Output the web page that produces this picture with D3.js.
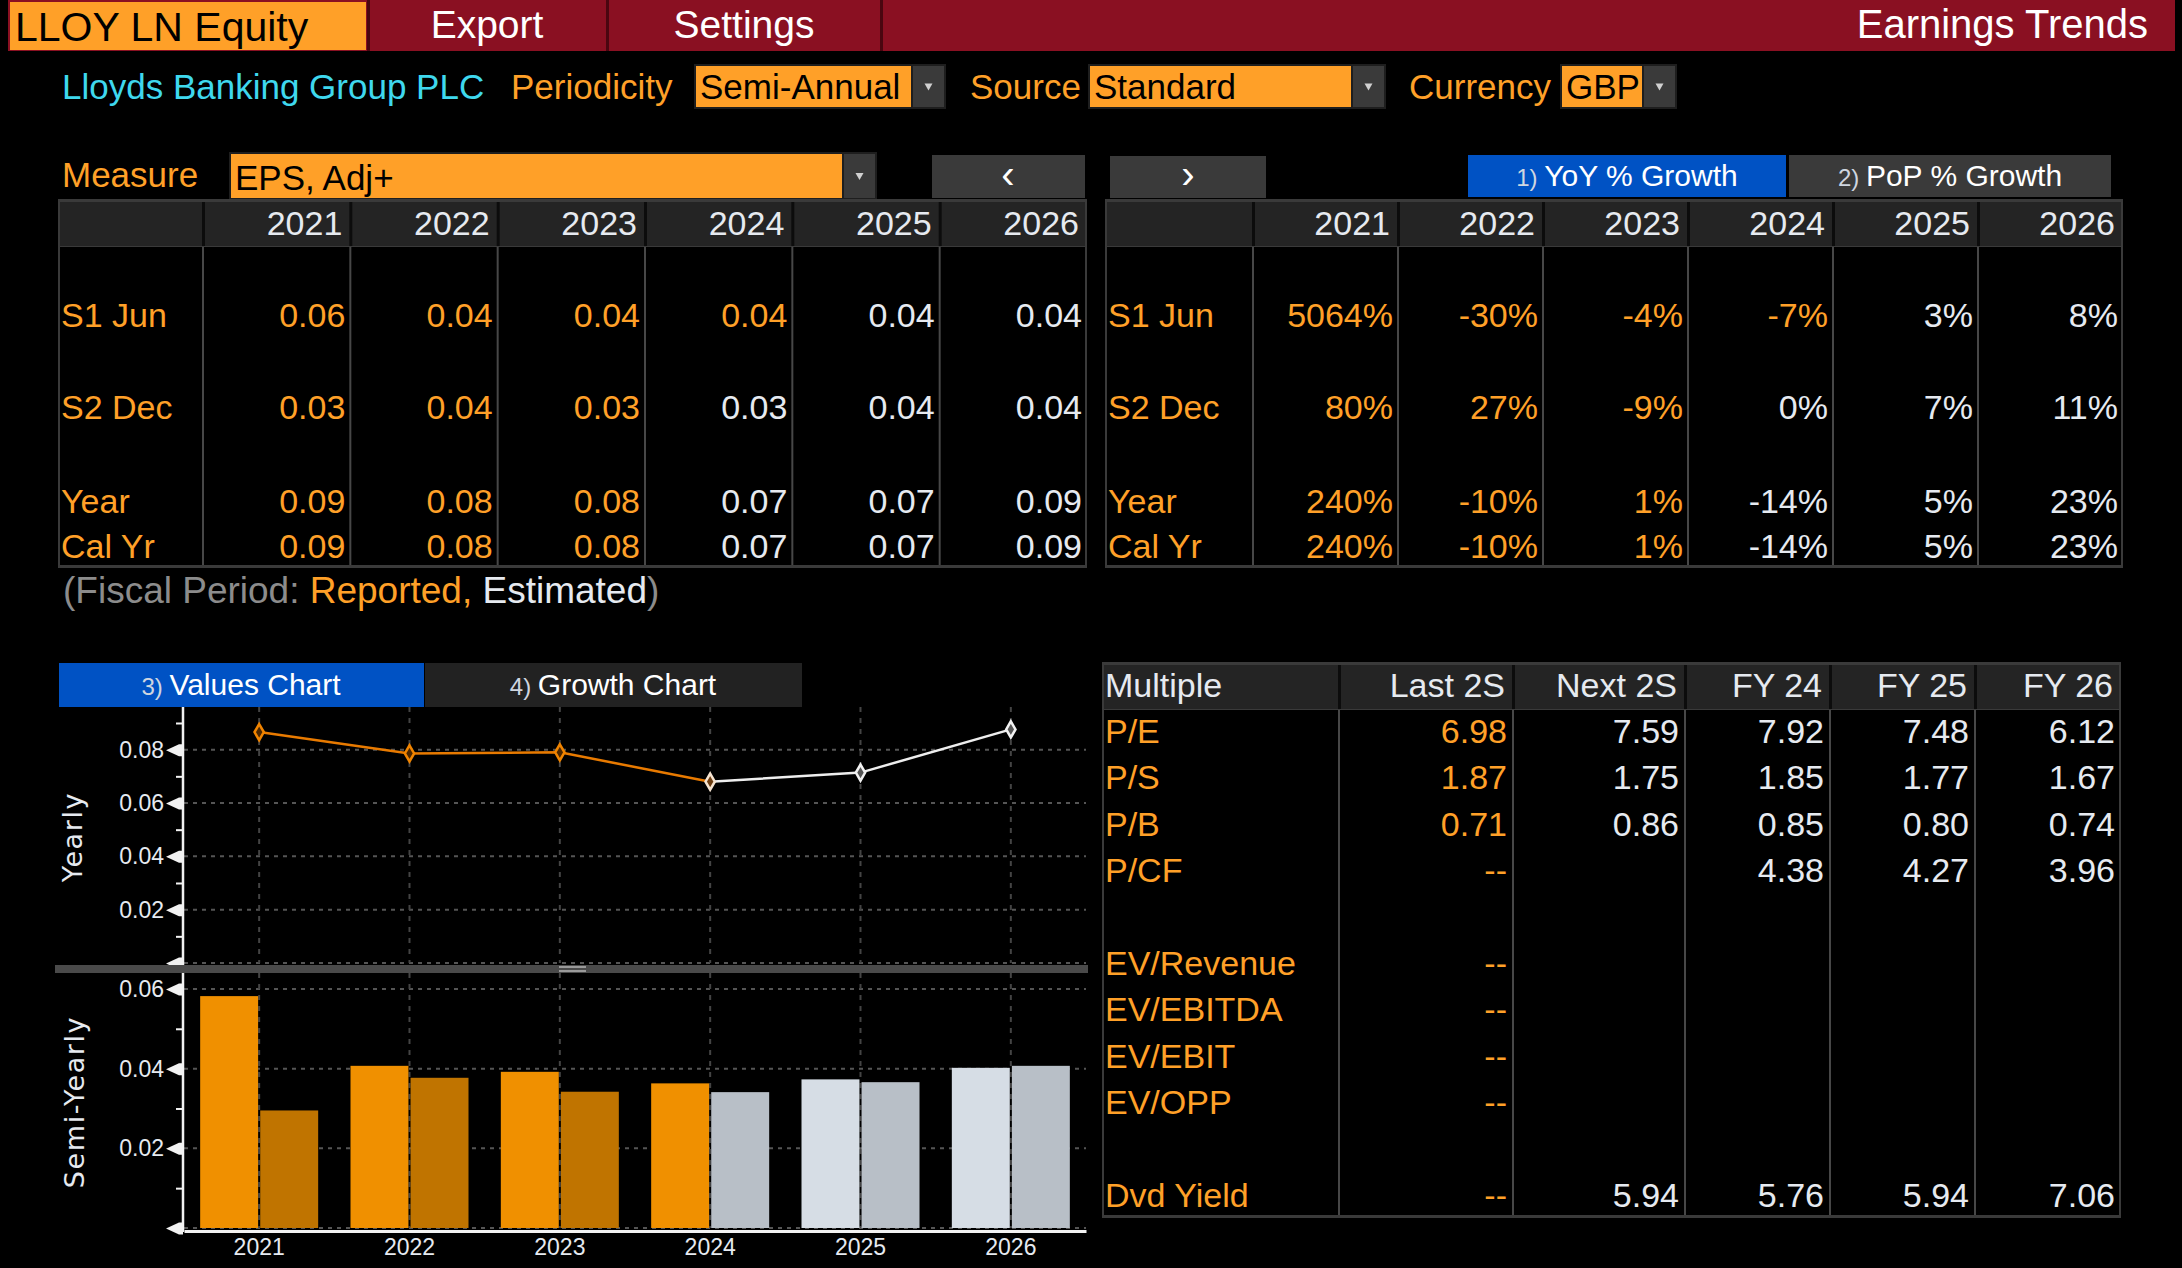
<!DOCTYPE html>
<html>
<head>
<meta charset="utf-8">
<script src="https://cdn.jsdelivr.net/npm/d3@7"></script>
<style>
  body { margin: 0; background: #000; }
  svg text { font-family: "Liberation Sans", Arial, sans-serif; }
  svg text.axlabel { font-family: "DejaVu Sans", Verdana, sans-serif; letter-spacing: 1.6px; }
</style>
</head>
<body>
<div id="chart"></div>
<script>
var years = ["2021", "2022", "2023", "2024", "2025", "2026"];
var rowLabels = ["S1 Jun", "S2 Dec", "Year", "Cal Yr"];

// EPS, Adj+ (GBP), halves
var s1Eps = [0.0582, 0.0407, 0.0392, 0.0363, 0.0373, 0.0402];
var s2Eps = [0.0295, 0.0377, 0.0342, 0.0341, 0.0366, 0.0407];
var yearEps = [0.0866, 0.0786, 0.0790, 0.0680, 0.0714, 0.0876];
var calYrEps = [0.0866, 0.0786, 0.0790, 0.0680, 0.0714, 0.0876];

// YoY % growth
var s1Growth = [5064, -30, -4, -7, 3, 8];
var s2Growth = [80, 27, -9, 0, 7, 11];
var yearGrowth = [240, -10, 1, -14, 5, 23];
var calYrGrowth = [240, -10, 1, -14, 5, 23];

// how many periods in each row are reported, the rest are estimates
var reportedCount = [4, 3, 3, 3];

var multipleNames = ["P/E", "P/S", "P/B", "P/CF", "", "EV/Revenue", "EV/EBITDA", "EV/EBIT", "EV/OPP", "", "Dvd Yield"];
var multipleCols = ["Last 2S", "Next 2S", "FY 24", "FY 25", "FY 26"];
var last2S = [6.98, 1.87, 0.71, "--", null, "--", "--", "--", "--", null, "--"];
var next2S = [7.59, 1.75, 0.86, null, null, null, null, null, null, null, 5.94];
var fy24 = [7.92, 1.85, 0.85, 4.38, null, null, null, null, null, null, 5.76];
var fy25 = [7.48, 1.77, 0.80, 4.27, null, null, null, null, null, null, 5.94];
var fy26 = [6.12, 1.67, 0.74, 3.96, null, null, null, null, null, null, 7.06];

var yearlyTicks = [0, 0.02, 0.04, 0.06, 0.08];
var yearlyMinor = [0.01, 0.03, 0.05, 0.07, 0.09];
var semiTicks = [0, 0.02, 0.04, 0.06];
var semiMinor = [0.01, 0.03, 0.05];

var ORANGE = "#FFA028";
var WHITE = "#E6EAF0";
var CYAN = "#3FD8EE";
var RED = "#8A1022";
var GREYBTN = "#3a3a3a";
var BLUE = "#0052C4";

var svg = d3.select("#chart").append("svg")
    .attr("width", 2182)
    .attr("height", 1268)
    .style("background", "#000");

function txt(g, x, y, s, opt) {
    opt = opt || {};
    return g.append("text")
        .attr("x", x).attr("y", y)
        .attr("fill", opt.fill || WHITE)
        .attr("font-size", opt.size || 34)
        .attr("text-anchor", opt.anchor || "start")
        .text(s);
}

// ---------- top bar
svg.append("rect").attr("x", 8).attr("y", 0).attr("width", 2167).attr("height", 51).attr("fill", RED);
svg.append("rect").attr("x", 10).attr("y", 2).attr("width", 356).attr("height", 48).attr("fill", ORANGE);
[368, 607, 881].forEach(function(x) {
    svg.append("rect").attr("x", x - 1).attr("y", 0).attr("width", 3).attr("height", 51).attr("fill", "#4a0610");
});
txt(svg, 15, 41, "LLOY LN Equity", { fill: "#000", size: 41 });
txt(svg, 487, 38, "Export", { size: 39, anchor: "middle", fill: "#fff" });
txt(svg, 744, 38, "Settings", { size: 39, anchor: "middle", fill: "#fff" });
txt(svg, 2148, 38, "Earnings Trends", { size: 40, anchor: "end", fill: "#fff" });

// ---------- dropdowns
function dropdown(x, y, w, h, label) {
    svg.append("rect").attr("x", x - 2).attr("y", y - 2).attr("width", w + 37).attr("height", h + 4).attr("fill", "#1e1e1e");
    svg.append("rect").attr("x", x).attr("y", y).attr("width", w).attr("height", h).attr("fill", ORANGE);
    txt(svg, x + 4, y + h - 8, label, { fill: "#000", size: 35 });
    svg.append("rect").attr("x", x + w + 2).attr("y", y).attr("width", 31).attr("height", h).attr("fill", GREYBTN);
    var cx = x + w + 17.5, cy = y + h / 2;
    svg.append("path")
        .attr("d", "M" + (cx - 4) + "," + (cy - 3) + "L" + (cx + 4) + "," + (cy - 3) + "L" + cx + "," + (cy + 4) + "Z")
        .attr("fill", "#d0d0d0");
}

txt(svg, 62, 99, "Lloyds Banking Group PLC", { fill: CYAN, size: 35 });
txt(svg, 511, 99, "Periodicity", { fill: ORANGE, size: 35 });
dropdown(696, 66, 215, 41, "Semi-Annual");
txt(svg, 970, 99, "Source", { fill: ORANGE, size: 35 });
dropdown(1090, 66, 261, 41, "Standard");
txt(svg, 1409, 99, "Currency", { fill: ORANGE, size: 35 });
dropdown(1562, 66, 80, 41, "GBP");

txt(svg, 62, 187, "Measure", { fill: ORANGE, size: 35 });
dropdown(231, 154, 611, 44, "EPS, Adj+");

// arrows
svg.append("rect").attr("x", 932).attr("y", 155).attr("width", 153).attr("height", 43).attr("fill", GREYBTN);
txt(svg, 1008, 188, "\u2039", { size: 40, anchor: "middle", fill: "#fff" });
svg.append("rect").attr("x", 1110).attr("y", 156).attr("width", 156).attr("height", 42).attr("fill", GREYBTN);
txt(svg, 1188, 188, "\u203A", { size: 40, anchor: "middle", fill: "#fff" });

function button(x, y, w, h, num, label, fill) {
    svg.append("rect").attr("x", x).attr("y", y).attr("width", w).attr("height", h).attr("fill", fill);
    var t = svg.append("text").attr("x", x + w / 2).attr("y", y + h - 11)
        .attr("text-anchor", "middle").attr("font-size", 30).attr("fill", "#fff");
    t.append("tspan").attr("font-size", 24).attr("fill", "#cfd6e0").text(num + " ");
    t.append("tspan").text(label);
}
button(1468, 155, 318, 42, "1)", "YoY % Growth", BLUE);
button(1789, 155, 322, 42, "2)", "PoP % Growth", GREYBTN);

// ---------- semi-annual tables
var rowBase = [327, 419, 513, 558];

function semiTable(x0, xLab, x1, rows, fmt) {
    var g = svg.append("g");
    var xc = d3.scaleBand().domain(years).range([xLab, x1]);

    g.append("rect").attr("x", x0).attr("y", 199).attr("width", x1 - x0).attr("height", 369).attr("fill", "#3a3a3a");
    g.append("rect").attr("x", x0 + 2).attr("y", 202).attr("width", x1 - x0 - 4).attr("height", 44).attr("fill", "#242424");
    g.append("rect").attr("x", x0 + 2).attr("y", 247).attr("width", x1 - x0 - 4).attr("height", 318).attr("fill", "#000");

    // column dividers
    g.selectAll(".hdiv").data(years).enter().append("rect")
        .attr("x", function(d) { return xc(d) - 1; })
        .attr("y", 202).attr("width", 3).attr("height", 44).attr("fill", "#0c0c0c");
    g.selectAll(".bdiv").data(years).enter().append("rect")
        .attr("x", function(d) { return xc(d) - 1; })
        .attr("y", 247).attr("width", 2).attr("height", 318).attr("fill", "#474747");

    g.selectAll(".yr").data(years).enter().append("text")
        .attr("x", function(d) { return xc(d) + xc.bandwidth() - 8; })
        .attr("y", 235).attr("text-anchor", "end").attr("font-size", 34).attr("fill", WHITE)
        .text(function(d) { return d; });

    rows.forEach(function(vals, r) {
        txt(g, x0 + 3, rowBase[r], rowLabels[r], { fill: ORANGE, size: 34 });
        g.selectAll(".v" + r).data(vals).enter().append("text")
            .attr("x", function(d, i) { return xc(years[i]) + xc.bandwidth() - 5; })
            .attr("y", rowBase[r]).attr("text-anchor", "end").attr("font-size", 34)
            .attr("fill", function(d, i) { return i < reportedCount[r] ? ORANGE : WHITE; })
            .text(fmt);
    });
}

semiTable(58, 203, 1087, [s1Eps, s2Eps, yearEps, calYrEps], d3.format(".2f"));
semiTable(1105, 1253, 2123, [s1Growth, s2Growth, yearGrowth, calYrGrowth], function(d) { return d + "%"; });

var fp = svg.append("text").attr("x", 63).attr("y", 603).attr("font-size", 37).attr("fill", "#8c8c8c");
fp.append("tspan").text("(Fiscal Period: ");
fp.append("tspan").attr("fill", ORANGE).text("Reported, ");
fp.append("tspan").attr("fill", WHITE).text("Estimated");
fp.append("tspan").text(")");

// ---------- chart tabs
svg.append("rect").attr("x", 59).attr("y", 663).attr("width", 365).attr("height", 44).attr("fill", BLUE);
svg.append("rect").attr("x", 425).attr("y", 663).attr("width", 377).attr("height", 44).attr("fill", "#222");
function tabText(cx, num, label) {
    var t = svg.append("text").attr("x", cx).attr("y", 695).attr("text-anchor", "middle")
        .attr("font-size", 30).attr("fill", "#fff");
    t.append("tspan").attr("font-size", 24).attr("fill", "#cfd6e0").text(num + " ");
    t.append("tspan").text(label);
}
tabText(241, "3)", "Values Chart");
tabText(613, "4)", "Growth Chart");

// ---------- charts
var x = d3.scaleBand().domain(years).range([184, 1086]);
var bw = x.bandwidth();
function cx(d) { return x(d) + bw / 2; }

var yLine = d3.scaleLinear().domain([0, 0.096]).range([963, 707]);
var yBar = d3.scaleLinear().domain([0, 0.064]).range([1228, 973]);

function grid(yScale, ticks, top, bottom) {
    var g = svg.append("g");
    g.selectAll(".hg").data(ticks).enter().append("line")
        .attr("x1", 184).attr("x2", 1086)
        .attr("y1", function(d) { return yScale(d); })
        .attr("y2", function(d) { return yScale(d); })
        .attr("stroke", "#555").attr("stroke-width", 2).attr("stroke-dasharray", "4,5");
    g.selectAll(".vg").data(years).enter().append("line")
        .attr("x1", cx).attr("x2", cx)
        .attr("y1", top).attr("y2", bottom)
        .attr("stroke", "#444").attr("stroke-width", 2).attr("stroke-dasharray", "5,6");
}

function yAxis(yScale, ticks, minor, top, bottom) {
    var g = svg.append("g").attr("transform", "translate(183,0)");
    var ax = g.append("g").call(d3.axisLeft(yScale)
        .tickValues(ticks)
        .tickSize(0)
        .tickPadding(19)
        .tickFormat(function(d) { return d === 0 ? "" : d3.format(".2f")(d); }));
    ax.select(".domain").remove();
    ax.selectAll("text").attr("font-size", 23).attr("fill", WHITE);
    ax.selectAll(".tick").append("path")
        .attr("d", "M-17,0L-4,-6L0,-6L0,6L-4,6Z")
        .attr("fill", "#f2f2f2");
    var mn = g.append("g").call(d3.axisLeft(yScale).tickValues(minor).tickSize(7).tickFormat(""));
    mn.select(".domain").remove();
    mn.selectAll("line").attr("stroke", "#f2f2f2").attr("stroke-width", 2);
    g.append("line").attr("x1", 0).attr("x2", 0).attr("y1", top).attr("y2", bottom)
        .attr("stroke", "#f2f2f2").attr("stroke-width", 2.5);
}

// yearly line chart
grid(yLine, yearlyTicks, 707, 963);
yAxis(yLine, yearlyTicks, yearlyMinor, 707, 965);

var line = d3.line()
    .x(function(d) { return cx(d.year); })
    .y(function(d) { return yLine(d.v); });
var pts = years.map(function(yr, i) { return { year: yr, v: yearEps[i], i: i }; });
var lastRep = reportedCount[2]; // 2024 is the first estimate
svg.append("path").datum(pts.slice(0, lastRep + 1)).attr("d", line)
    .attr("fill", "none").attr("stroke", "#E87A00").attr("stroke-width", 2.5);
svg.append("path").datum(pts.slice(lastRep)).attr("d", line)
    .attr("fill", "none").attr("stroke", "#EEEEEE").attr("stroke-width", 2.5);

svg.selectAll(".mk").data(pts).enter().append("path")
    .attr("transform", function(d) { return "translate(" + cx(d.year) + "," + yLine(d.v) + ")"; })
    .attr("d", d3.symbol(d3.symbolDiamond, 75))
    .attr("fill", function(d) { return d.i < lastRep ? "#4a2600" : (d.i === lastRep ? "#6b3c10" : "#555"); })
    .attr("stroke", function(d) { return d.i < lastRep ? "#F08400" : (d.i === lastRep ? "#F6E4D0" : "#F2F2F2"); })
    .attr("stroke-width", 2.5);

svg.append("text").attr("class", "axlabel").attr("transform", "translate(82,837) rotate(-90)")
    .attr("text-anchor", "middle").attr("font-size", 27).attr("fill", WHITE)
    .text("Yearly");

// splitter
svg.append("rect").attr("x", 55).attr("y", 965).attr("width", 1033).attr("height", 8).attr("fill", "#4a4a4a");
svg.append("rect").attr("x", 559).attr("y", 966).attr("width", 27).attr("height", 2).attr("fill", "#9a9a9a");
svg.append("rect").attr("x", 559).attr("y", 970).attr("width", 27).attr("height", 2).attr("fill", "#9a9a9a");

// semi-yearly bars
grid(yBar, semiTicks, 973, 1228);

var halves = ["S1", "S2"];
var xSub = d3.scaleBand().domain(halves).range([-59, 59]).paddingInner(0.035);
var barData = [];
years.forEach(function(yr, i) {
    barData.push({ year: yr, half: "S1", v: s1Eps[i], rep: i < reportedCount[0] });
    barData.push({ year: yr, half: "S2", v: s2Eps[i], rep: i < reportedCount[1] });
});
var barColor = {
    S1: { rep: "#F09000", est: "#D6DDE5" },
    S2: { rep: "#C07400", est: "#B8BFC7" }
};
svg.selectAll(".bar").data(barData).enter().append("rect")
    .attr("x", function(d) { return cx(d.year) + xSub(d.half); })
    .attr("y", function(d) { return yBar(d.v); })
    .attr("width", xSub.bandwidth())
    .attr("height", function(d) { return yBar(0) - yBar(d.v); })
    .attr("fill", function(d) { return d.rep ? barColor[d.half].rep : barColor[d.half].est; });

yAxis(yBar, semiTicks, semiMinor, 973, 1232);

var xa = svg.append("g").attr("transform", "translate(0,1231)")
    .call(d3.axisBottom(x).tickSize(0).tickPadding(8));
xa.select(".domain").attr("stroke", "#f2f2f2").attr("stroke-width", 3);
xa.selectAll("text").attr("font-size", 23).attr("fill", WHITE);

svg.append("text").attr("class", "axlabel").attr("transform", "translate(84,1102) rotate(-90)")
    .attr("text-anchor", "middle").attr("font-size", 27).attr("fill", WHITE)
    .text("Semi-Yearly");

// ---------- multiples table
var colEdges = [1102, 1339, 1513, 1685, 1830, 1975, 2121];
var multRow = d3.scaleLinear().domain([0, 10]).range([743, 1207]);
var multCols = [last2S, next2S, fy24, fy25, fy26];

var mt = svg.append("g");
mt.append("rect").attr("x", 1102).attr("y", 662).attr("width", 1019).attr("height", 556).attr("fill", "#3a3a3a");
mt.append("rect").attr("x", 1104).attr("y", 665).attr("width", 1015).attr("height", 44).attr("fill", "#242424");
mt.append("rect").attr("x", 1104).attr("y", 710).attr("width", 1015).attr("height", 505).attr("fill", "#000");
mt.selectAll(".hdiv").data(colEdges.slice(1, 6)).enter().append("rect")
    .attr("x", function(d) { return d - 1; }).attr("y", 665).attr("width", 3).attr("height", 44).attr("fill", "#0c0c0c");
mt.selectAll(".bdiv").data(colEdges.slice(1, 6)).enter().append("rect")
    .attr("x", function(d) { return d - 1; }).attr("y", 710).attr("width", 2).attr("height", 505).attr("fill", "#474747");

txt(mt, 1105, 697, "Multiple", { size: 34 });
mt.selectAll(".mh").data(multipleCols).enter().append("text")
    .attr("x", function(d, i) { return colEdges[i + 2] - 8; })
    .attr("y", 697).attr("text-anchor", "end").attr("font-size", 34).attr("fill", WHITE)
    .text(function(d) { return d; });

mt.selectAll(".ml").data(multipleNames).enter().append("text")
    .attr("x", 1105).attr("y", function(d, i) { return multRow(i); })
    .attr("font-size", 34).attr("fill", ORANGE)
    .text(function(d) { return d; });

multCols.forEach(function(vals, c) {
    mt.selectAll(".mv" + c).data(vals).enter().append("text")
        .attr("x", colEdges[c + 2] - 6)
        .attr("y", function(d, i) { return multRow(i); })
        .attr("text-anchor", "end").attr("font-size", 34)
        .attr("fill", c === 0 ? ORANGE : WHITE)
        .text(function(d) { return d === null ? "" : (typeof d === "number" ? d3.format(".2f")(d) : d); });
});
</script>
</body>
</html>
